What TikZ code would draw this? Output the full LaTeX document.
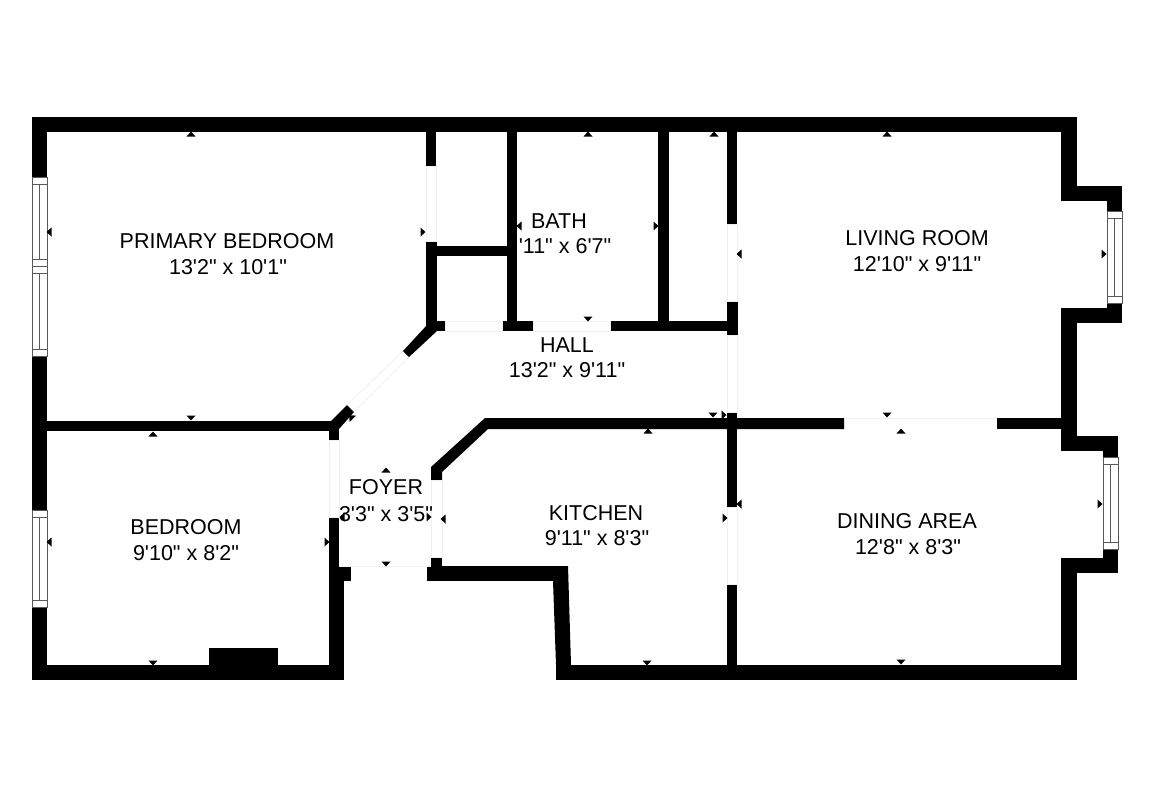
\documentclass[tikz,border=0pt]{standalone}
\usepackage{xcolor}
\usepackage{fontspec}
\newfontfamily\roomfont{Liberation Sans}
\usepackage{tikz}
\tikzstyle{wall} = [fill = black, draw = none]
\tikzstyle{doorway} = [fill = white, draw = black!6, line width = .4pt]
\tikzstyle{pane} = [fill = white, draw = black!65, line width = .5pt]
\tikzstyle{tick} = [fill = black, draw = none]
\tikzstyle{room} = [draw = none, inner sep = 0, yshift = -.2pt, align = center, font = \roomfont\fontsize{10.75}{13}\selectfont]

\begin{document}
\begin{tikzpicture}[x = .5pt, y = -.5pt]
\useasboundingbox [fill = white] (0, 0) rectangle (1154, 800);
% walls
\foreach \xa/\ya/\xb/\yb in {32/117/1077/132, 32/117/47/680, 32/665/344/680, 209/648/278/665,
  47/421/339/431, 329/421/339/440, 329/517/339/580, 329/580/344/680, 339/566/351/581,
  427/566/568/581, 431/557/442/566, 556/665/1077/680, 997/418/1077/429,
  727/132/737/224, 727/301/738/335, 727/412/737/507, 727/584/737/665,
  1061/117/1077/201, 1061/186/1122/201, 1107/186/1122/323, 1061/308/1122/323,
  1061/308/1077/451, 1061/436/1118/451, 1103/436/1118/573, 1061/558/1118/573, 1061/558/1077/680,
  426/132/436/166, 426/241/437/331, 426/321/445/331, 436/246/507/256, 507/132/517/331,
  502/321/533/331, 658/132/669/331, 610/321/737/331}
  \fill [wall] (\xa, \ya) rectangle (\xb, \yb);
\fill [wall] (553, 566) -- (568, 566) -- (571, 665) -- (556, 665) -- (553, 581) -- cycle;
\fill [wall] (431, 480) -- (431, 467) -- (485, 418) -- (844, 418) -- (844, 429) -- (488, 429) -- (442, 472) -- (442, 480) -- cycle;
\fill [wall] (427, 325) -- (403, 351) -- (409, 357) -- (437, 331) -- cycle;
\fill [wall] (347, 405) -- (354, 412) -- (339, 429) -- (331, 421) -- cycle;
% doorways
\foreach \xa/\ya/\xb/\yb in {426/166/436/241, 445/321/502/331, 533/321/610/331, 727/224/737/301,
  727/335/737/412, 727/507/737/584, 329/440/339/517, 431/480/442/557}
  \draw [doorway] (\xa, \ya) rectangle (\xb, \yb);
\draw [doorway] (844, 418) -- (997, 418);
\draw [doorway] (339, 566) -- (431, 566);
\draw [doorway] (403, 351) -- (347, 405);
\draw [doorway] (409, 357) -- (354, 412);
% windows
\foreach \xa/\xb/\ya/\yb in {32/47/177/266, 32/47/266/356, 32/47/510/607, 1107/1122/211/303, 1103/1118/457/549} {
  \draw [pane] (\xa, \ya) rectangle (\xb, \yb);
  \draw [pane] (\xa, \ya + 7) -- (\xb, \ya + 7);
  \draw [pane] (\xa, \yb - 7) -- (\xb, \yb - 7);
  \draw [pane] (\xa / 2 + \xb / 2, \ya + 7) -- (\xa / 2 + \xb / 2, \yb - 7);
}
% measure ticks, apex up at 0
\foreach \x/\y/\a in {191/134/0, 588/134/0, 714/134/0, 887/134/0, 153/434/0, 648/431/0, 901/431/0, 386/470/0,
  191/418/180, 588/319/180, 713/415/180, 887/415/180, 153/663/180, 386/564/180, 647/663/180, 901/662/180,
  49/232/90, 519/226/90, 739/254/90, 739/504/90, 49/542/90, 443/519/90, 342/517/90,
  423/232/-90, 656/226/-90, 1104/254/-90, 1100/504/-90, 327/542/-90, 725/518/-90, 429/517/-90, 724/415/-90,
  351/417/45}
  \fill [tick, shift = {(\x, \y)}, rotate = \a] (-4.5, 2.5) -- (4.5, 2.5) -- (0, -2.5) -- cycle;
% rooms
\node [room] (primary) at (227, 241) {PRIMARY BEDROOM};
\node [room] (primarysize) at (228, 267) {13'2" x 10'1"};
\node [room] (bath) at (559, 221) {BATH};
\node [room] (bathsize) at (565, 246) {'11" x 6'7"};
\node [room] (living) at (917, 238) {LIVING ROOM};
\node [room] (livingsize) at (917, 264) {12'10" x 9'11"};
\node [room] (hall) at (567, 345) {HALL};
\node [room] (hallsize) at (567, 370) {13'2" x 9'11"};
\node [room] (foyer) at (386, 487) {FOYER};
\node [room] (foyersize) at (386, 514) {3'3" x 3'5"};
\node [room] (bedroom) at (186, 527) {BEDROOM};
\node [room] (bedroomsize) at (186, 553) {9'10" x 8'2"};
\node [room] (kitchen) at (596, 513) {KITCHEN};
\node [room] (kitchensize) at (597, 538) {9'11" x 8'3"};
\node [room] (dining) at (907, 521) {DINING AREA};
\node [room] (diningsize) at (908, 547) {12'8" x 8'3"};
\end{tikzpicture}
\end{document}
